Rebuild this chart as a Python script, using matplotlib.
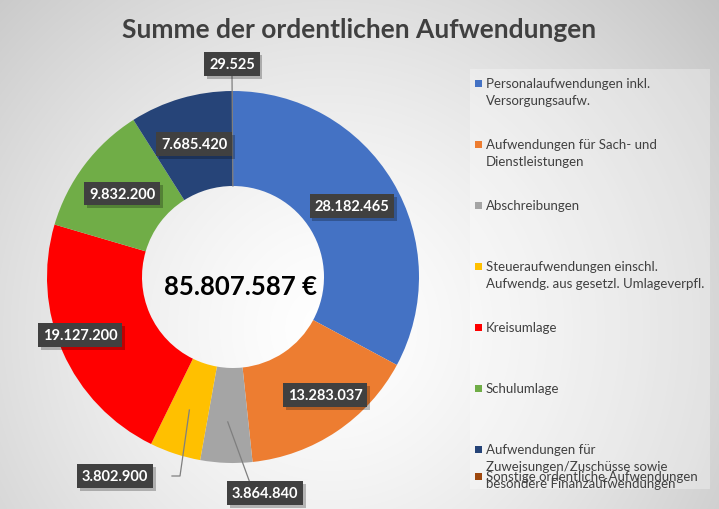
import numpy as np
import matplotlib.pyplot as plt
import matplotlib.patheffects as pe
from matplotlib.patches import Rectangle

# Daten
labels = [
    "Personalaufwendungen inkl.\nVersorgungsaufw.",
    "Aufwendungen für Sach- und\nDienstleistungen",
    "Abschreibungen",
    "Steueraufwendungen einschl.\nAufwendg. aus gesetzl. Umlageverpfl.",
    "Kreisumlage",
    "Schulumlage",
    "Aufwendungen für\nZuweisungen/Zuschüsse sowie\nbesondere Finanzaufwendungen",
    "Sonstige ordentliche Aufwendungen",
]
values = [28182465, 13283037, 3864840, 3802900, 19127200, 9832200, 7685420, 29525]
colors = ["#4472C4", "#ED7D31", "#A5A5A5", "#FFC000", "#FF0000", "#70AD47", "#264478", "#9E480E"]
title = "Summe der ordentlichen Aufwendungen"


def de(v):
    return f"{v:,}".replace(",", ".")


W, H = 719, 510
FONT = "Lato"
fig = plt.figure(figsize=(W / 100, H / 100), dpi=100)
ax = fig.add_axes([0, 0, 1, 1])

# Hintergrund (radialer Verlauf)
yy, xx = np.mgrid[0:H, 0:W]
d = np.hypot(xx - 330, (H - yy) - 330) / 520
bg = np.clip(1.0 - 0.24 * d ** 1.4, 0.74, 1.0)
ax.imshow(np.dstack([bg, bg, bg]), extent=(0, W, 0, H), origin="lower", zorder=0)

cx, cy, R, r_in = 233, H - 278, 186, 91
ax.pie(values, colors=colors, startangle=90, counterclock=False, radius=R,
       center=(cx, cy), wedgeprops=dict(width=R - r_in, edgecolor="none"))
ax.set_xlim(0, W)
ax.set_ylim(0, H)
ax.set_aspect("equal")
ax.axis("off")

# Beschriftungen
frac = np.array(values) / sum(values)
ends = 90 - 360 * np.cumsum(frac)
mids = ends + 180 * frac
r_mid = (R + r_in) / 2
# Positionen (Pixel, y von oben) für verschobene Beschriftungen
moved = {4: (80, 336), 2: (265, 494), 3: (115, 477), 7: (232, 65), 1: (325, 396)}


def box(x, y, s):
    t = ax.text(x, y, s, color="white", fontsize=10.5, fontweight="bold", family=FONT,
                ha="center", va="center", zorder=5,
                bbox=dict(boxstyle="square,pad=0.33", fc="#404040", ec="none"))
    t.get_bbox_patch().set_path_effects(
        [pe.SimplePatchShadow(offset=(2, -2), shadow_rgbFace="black", alpha=0.25), pe.Normal()])


for i, v in enumerate(values):
    a = np.radians(mids[i])
    if i in moved:
        x, y = moved[i][0], H - moved[i][1]
    else:
        x, y = cx + r_mid * np.cos(a), cy + r_mid * np.sin(a)
    box(x, y, de(v))

# Führungslinien
lc = dict(color="#7f7f7f", lw=0.9, zorder=3)
a = np.radians(mids[2])
ax.plot([250, cx + 145 * np.cos(a)], [H - 484, cy + 145 * np.sin(a)], **lc)
a = np.radians(mids[3])
ax.plot([172, 180, cx + 140 * np.cos(a)], [H - 477, H - 477, cy + 140 * np.sin(a)], **lc)
a = np.radians(mids[7])
ax.plot([232, cx + r_in * np.cos(a)], [H - 77, cy + r_in * np.sin(a)], **lc)

# Summe in der Mitte
ax.text(cx + 7, cy - 9, de(sum(values)) + " €", fontsize=18.5, fontweight="bold", family=FONT,
        ha="center", va="center", color="black", zorder=5)

# Titel
ax.text(W / 2, H - 30, title, fontsize=19, fontweight="bold", family=FONT,
        ha="center", va="center", color="#404040", zorder=5)

# Legende
ax.add_patch(Rectangle((470, H - 490), 240, 420, fc="white", ec="none", alpha=0.3, zorder=1))
leg_y = [84, 145, 206, 267, 328, 389, 450, 477]
for lab, col, y in zip(labels, colors, leg_y):
    ax.add_patch(Rectangle((475, H - y - 3.5), 7, 7, fc=col, ec="none", zorder=5))
    for k, line in enumerate(lab.split("\n")):
        ax.text(486, H - y - 4 - 17 * k, line, fontsize=9.5, family=FONT, color="#404040",
                ha="left", va="baseline", zorder=5)

fig.savefig("out.png", dpi=100)
